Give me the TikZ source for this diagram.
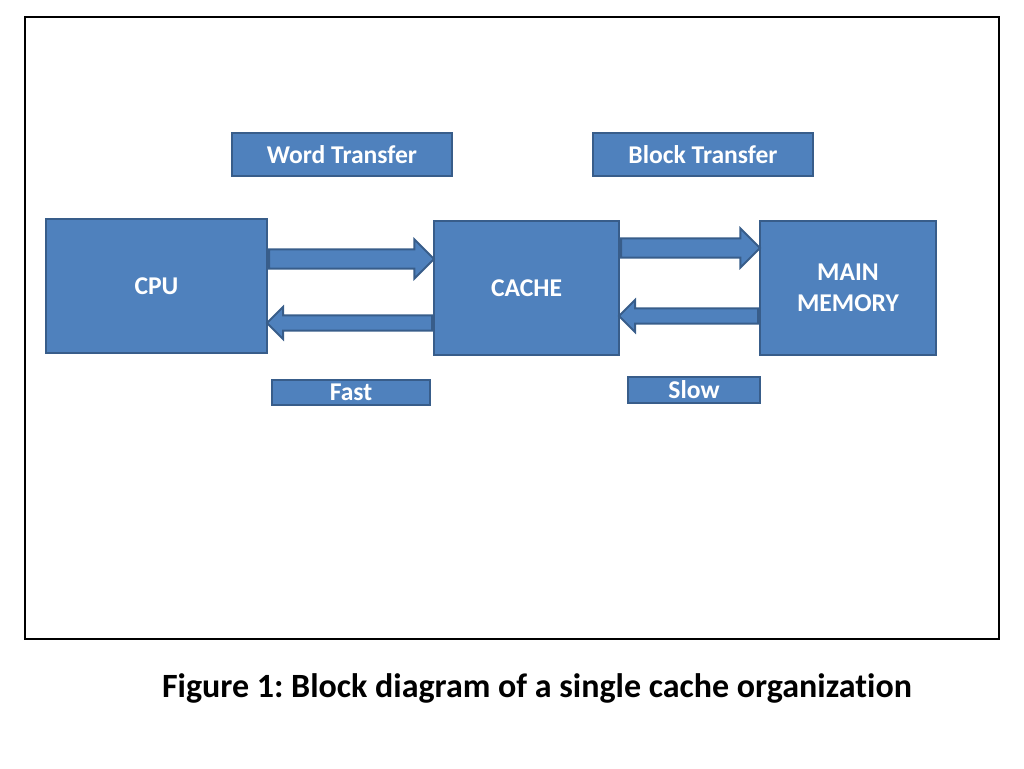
\documentclass[tikz,border=0pt]{standalone}
\usepackage{fontspec}
\setmainfont{Carlito}[Ligatures=NoCommon]
\usetikzlibrary{shapes.arrows,calc}
\definecolor{boxfill}{HTML}{4F81BD}
\definecolor{boxline}{HTML}{385D8A}
\frenchspacing
\begin{document}
\begin{tikzpicture}[x=0.75pt,y=0.75pt,
  box/.style={draw=boxline,fill=boxfill,line width=1.5pt,text=white,
    font=\bfseries\fontsize{19.2}{23}\selectfont,align=center,inner sep=0pt},
  bigarrow/.style={single arrow,draw=boxline,fill=boxfill,line width=1.5pt,
    inner xsep=0pt,inner ysep=6.4pt,single arrow head extend=7.5pt,anchor=tail},
  thinarrow/.style={bigarrow,inner ysep=4.9pt,single arrow head extend=6.4pt}]
\useasboundingbox (0,0) rectangle (1024,768);
\draw[line width=2.2pt] (25,129) rectangle (999,751);
% labels above and below
\node[box,minimum width=165pt,minimum height=32pt] (word) at (342,613.5) {Word Transfer};
\node[box,minimum width=165pt,minimum height=32pt] (block) at (703,613.5) {Block Transfer};
\node[box,minimum width=118.5pt,minimum height=18.75pt] (fast) at (351,375.5) {Fast};
\node[box,minimum width=99pt,minimum height=19.5pt] (slow) at (694,378) {Slow};
% the three units
\node[box,minimum width=165.75pt,minimum height=100.5pt] (cpu) at (156.5,482) {CPU};
\node[box,minimum width=138.75pt,minimum height=100.5pt] (cache) at (526.5,480) {CACHE};
\node[box,minimum width=132pt,minimum height=100.5pt] (mem) at (848,480) {MAIN\\MEMORY};
% block arrows between them
\foreach \a/\aa/\b/\bb/\h/\rot/\st in {cpu/east/cache/west/509/0/bigarrow,
    cache/west/cpu/east/445/180/thinarrow,
    cache/east/mem/west/520/0/bigarrow,
    mem/west/cache/east/452/180/thinarrow}{
  \path let \p1=(\a.\aa), \p2=(\b.\bb), \n1={abs(\x2-\x1)} in
    node[\st,minimum height=\n1,shape border rotate=\rot] at (\x1,\h*0.75pt) {};
}
\node (caption) at (537,80) {\bfseries\fontsize{25.5}{30}\selectfont Figure 1: Block diagram of a single cache organization};
\end{tikzpicture}
\end{document}
